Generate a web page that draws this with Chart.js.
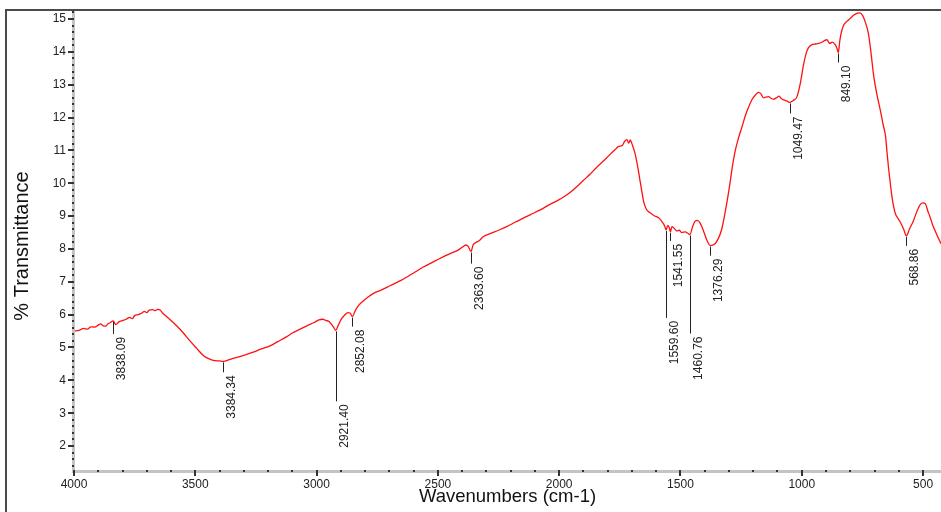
<!DOCTYPE html>
<html><head><meta charset="utf-8">
<script src="https://cdn.jsdelivr.net/npm/chart.js@4.4.0/dist/chart.umd.min.js"></script>
<style>html,body{margin:0;padding:0;background:#fff;}#wrap{width:941px;height:512px;position:relative;overflow:hidden;}canvas{display:block;}</style>
</head><body><div id="wrap"><canvas id="c" width="941" height="512"></canvas></div>
<script>
// ---- data ----
const wavenumbers = [4000,3980,3960,3945,3930,3915,3900,3890,3880,3870,3860,3850,3838.09,3828,3815,3800,3785,3770,3760,3750,3735,3720,3710,3700,3690,3675,3665,3655,3645,3635,3620,3600,3577,3550,3522,3495,3467,3445,3426,3400,3384.34,3360,3329,3300,3261,3230,3192,3160,3123,3100,3068,3040,3010,2990,2975,2960,2950,2940,2930,2921.40,2912,2900,2885,2870,2862,2852.08,2842,2830,2810,2790,2767,2730,2697,2650,2600,2560,2500,2450,2420,2400,2385,2375,2363.60,2355,2346,2330,2312,2280,2250,2216,2180,2150,2120,2078,2040,2000,1982,1950,1920,1900,1872,1850,1820,1790,1770,1755,1740,1730,1721,1713,1707,1700,1687,1675,1666,1658,1652,1640,1625,1610,1590,1575,1565,1559.60,1552,1545,1541.55,1535,1525,1515,1505,1495,1480,1470,1460.76,1450,1440,1430,1420,1405,1390,1376.29,1360,1345,1330,1315,1300,1295,1285,1274,1260,1247,1233,1219,1205,1192,1178,1168,1158,1150,1137,1125,1116,1105,1093,1085,1075,1060,1049.47,1035,1020,1006,993,980,972,958,944,930,915,905,896,888,883,875,862,855,849.10,843,835,827,815,800,785,770,760,750,740,725,715,704,690,676,665,655,648,642,635,628,620,614,605,594,580,568.86,555,539,525,511,500,491,480,470,460,450,440,426];
const transmittance = [5.50,5.52,5.58,5.56,5.63,5.62,5.68,5.72,5.66,5.65,5.72,5.76,5.81,5.70,5.78,5.82,5.86,5.92,5.88,5.97,6.00,6.05,6.10,6.06,6.14,6.15,6.12,6.16,6.14,6.05,5.95,5.82,5.66,5.45,5.20,4.98,4.76,4.66,4.61,4.59,4.58,4.63,4.70,4.76,4.86,4.95,5.05,5.18,5.33,5.44,5.56,5.66,5.76,5.84,5.86,5.82,5.80,5.72,5.62,5.52,5.65,5.84,5.98,6.06,6.05,5.94,6.10,6.25,6.40,6.52,6.64,6.76,6.88,7.05,7.27,7.45,7.68,7.86,7.95,8.05,8.12,8.08,7.92,8.12,8.18,8.25,8.38,8.48,8.57,8.68,8.82,8.93,9.04,9.19,9.35,9.50,9.58,9.75,9.95,10.09,10.28,10.45,10.66,10.88,11.02,11.12,11.15,11.28,11.33,11.22,11.32,11.20,10.90,10.45,10.05,9.70,9.45,9.20,9.10,9.02,8.95,8.82,8.70,8.58,8.72,8.62,8.52,8.68,8.62,8.55,8.57,8.50,8.52,8.48,8.44,8.68,8.84,8.87,8.80,8.55,8.25,8.10,8.14,8.30,8.60,9.15,9.80,10.05,10.55,11.00,11.40,11.70,12.05,12.32,12.55,12.68,12.77,12.72,12.60,12.62,12.64,12.58,12.56,12.60,12.65,12.58,12.54,12.50,12.46,12.52,12.63,13.04,13.60,14.00,14.13,14.22,14.24,14.26,14.30,14.35,14.37,14.28,14.26,14.30,14.22,14.12,13.98,14.35,14.65,14.82,14.92,15.02,15.12,15.18,15.19,15.12,14.95,14.55,14.00,13.30,12.70,12.22,11.80,11.45,10.90,10.45,10.00,9.58,9.25,9.07,8.95,8.82,8.60,8.40,8.62,8.87,9.15,9.36,9.40,9.38,9.15,8.95,8.72,8.55,8.38,8.16];
const xTickValues = [4000,3500,3000,2500,2000,1500,1000,500];
const yTickValues = [2,3,4,5,6,7,8,9,10,11,12,13,14,15];
const peakWavenumbers = [3838.09,3384.34,2921.40,2852.08,2363.60,1559.60,1541.55,1460.76,1376.29,1049.47,849.10,568.86];
const peakTransmittance = [5.81,4.58,5.52,5.94,7.92,8.58,8.52,8.44,8.10,12.46,13.98,8.40];
const peakLabels = ["3838.09","3384.34","2921.40","2852.08","2363.60","1559.60","1541.55","1460.76","1376.29","1049.47","849.10","568.86"];
const xTitle = "Wavenumbers (cm-1)";
const yTitle = "% Transmittance";

// ---- styling / layout (not data) ----
const peakLabelDrop = [13,11,71,10,12,88,9,99,10,11,10,10];
const FONT = "'Liberation Sans', Arial, sans-serif";

const points = wavenumbers.map((w, i) => ({x: w, y: transmittance[i]}));

const decor = {
  id: 'decor',
  afterDraw(chart) {
    const ctx = chart.ctx;
    const xs = chart.scales.x, ys = chart.scales.y;
    const a = chart.chartArea;
    ctx.save();
    // outer frame (left & top)
    ctx.fillStyle = '#4a4a4a';
    ctx.fillRect(5, 9, 936, 2);
    ctx.fillRect(5, 9, 2, 503);
    // axis bands
    ctx.fillStyle = '#c4c4c4';
    ctx.fillRect(a.left - 2, a.top + 1, 3, a.bottom - a.top + 1);
    ctx.fillRect(a.left - 2, a.bottom - 1, a.right - a.left + 2, 3);
    // x ticks
    ctx.fillStyle = '#333';
    for (let w = 4000; w >= xs.min; w -= 100) {
      const px = Math.round(xs.getPixelForValue(w));
      if (w % 500 === 0) ctx.fillRect(px - 1, a.bottom - 1, 2, 6);
      else ctx.fillRect(px - 1, a.bottom - 1, 2, 2);
    }
    // y ticks
    for (let k = Math.ceil(ys.min * 5); k <= Math.floor(ys.max * 5); k++) {
      const v = k / 5;
      const py = Math.round(ys.getPixelForValue(v));
      if (k % 5 === 0) ctx.fillRect(a.left - 6, py - 1, 6, 2);
      else ctx.fillRect(a.left - 2, py - 1, 2, 2);
    }
    // peak annotations
    ctx.strokeStyle = '#222';
    ctx.lineWidth = 1;
    ctx.fillStyle = '#222';
    ctx.font = '12px ' + FONT;
    peakWavenumbers.forEach((w, i) => {
      const px = Math.round(xs.getPixelForValue(w)) + 0.5;
      const py = ys.getPixelForValue(peakTransmittance[i]);
      const end = py + peakLabelDrop[i];
      ctx.beginPath();
      ctx.moveTo(px, py + 1);
      ctx.lineTo(px, end);
      ctx.stroke();
      ctx.save();
      ctx.translate(px + 8.5, end + 3);
      ctx.rotate(-Math.PI / 2);
      ctx.textAlign = 'right';
      ctx.textBaseline = 'middle';
      ctx.fillText(peakLabels[i], 0, 0);
      ctx.restore();
    });
    // axis titles
    ctx.fillStyle = '#111';
    ctx.font = '18.5px ' + FONT;
    ctx.textAlign = 'center';
    ctx.textBaseline = 'middle';
    ctx.fillText(xTitle, (a.left + 941) / 2, 497);
    ctx.save();
    ctx.translate(22, 246);
    ctx.rotate(-Math.PI / 2);
    ctx.font = '20px ' + FONT;
    ctx.fillText(yTitle, 0, 0);
    ctx.restore();
    ctx.restore();
  }
};

new Chart(document.getElementById('c'), {
  type: 'line',
  data: {
    datasets: [{
      data: points,
      borderColor: '#ff1010',
      borderWidth: 1.3,
      pointRadius: 0,
      cubicInterpolationMode: 'monotone',
      fill: false
    }]
  },
  options: {
    responsive: false,
    animation: false,
    devicePixelRatio: 1,
    layout: {autoPadding: false, padding: {top: 10, left: 0, right: 0, bottom: 0}},
    plugins: {legend: {display: false}, tooltip: {enabled: false}},
    scales: {
      x: {
        type: 'linear',
        reverse: true,
        min: 426,
        max: 4000,
        afterBuildTicks: s => { s.ticks = xTickValues.map(v => ({value: v})); },
        afterFit: s => { s.height = 41; s.paddingLeft = 0; s.paddingRight = 0; },
        grid: {display: false, drawTicks: false},
        border: {display: false},
        ticks: {padding: 6, color: '#222', font: {family: FONT, size: 12}, maxRotation: 0, autoSkip: false,
                callback: v => String(v)}
      },
      y: {
        type: 'linear',
        min: 1.24,
        max: 15.275,
        afterBuildTicks: s => { s.ticks = yTickValues.map(v => ({value: v})); },
        afterFit: s => { s.width = 74; s.paddingTop = 0; s.paddingBottom = 0; },
        grid: {display: false, drawTicks: false},
        border: {display: false},
        ticks: {padding: 8, color: '#222', font: {family: FONT, size: 12}, autoSkip: false,
                callback: v => String(v)}
      }
    }
  },
  plugins: [decor]
});
</script></body></html>
